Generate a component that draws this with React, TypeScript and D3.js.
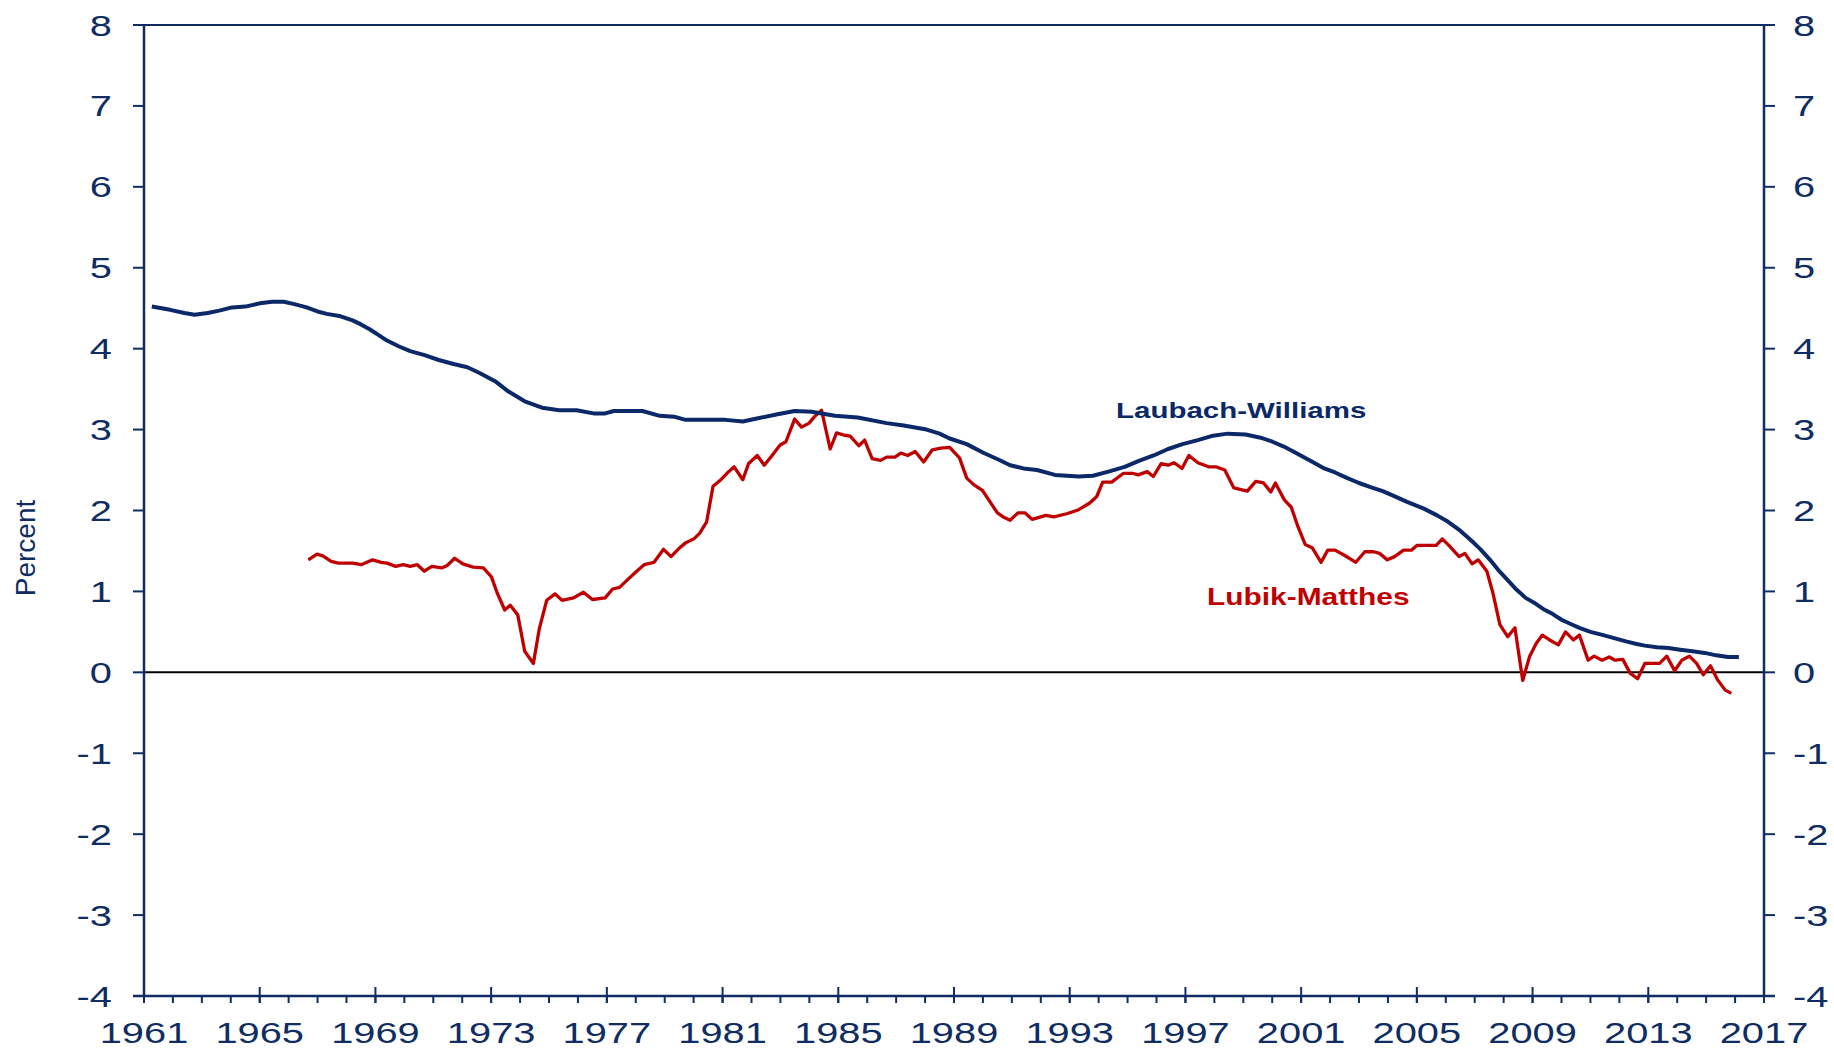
import React from "react";
import * as d3 from "d3";

// Laubach-Williams (navy), quarterly-ish readings
const lwYears = [
	1961.27, 1961.9, 1962.4, 1962.75, 1963.2, 1963.6, 1964.04, 1964.5, 1965.0, 1965.43,
	1965.83, 1966.2, 1966.62, 1967.0, 1967.32, 1967.8, 1968.21, 1968.5, 1968.8, 1969.1,
	1969.4, 1969.8, 1970.2, 1970.7, 1971.19, 1971.7, 1972.18, 1972.6, 1973.17, 1973.6,
	1974.16, 1974.76, 1975.35, 1975.95, 1976.54, 1976.94, 1977.24, 1978.23, 1978.83, 1979.32,
	1979.72, 1981.1, 1981.7, 1982.1, 1982.9, 1983.49, 1984.08, 1984.88, 1985.67, 1986.67,
	1987.26, 1988.05, 1988.5, 1988.85, 1989.44, 1990.03, 1990.53, 1990.94, 1991.4, 1991.87,
	1992.49, 1993.31, 1993.8, 1994.34, 1994.9, 1995.37, 1995.9, 1996.4, 1996.9, 1997.43,
	1997.9, 1998.46, 1999.08, 1999.6, 2000.01, 2000.4, 2000.73, 2001.35, 2001.8, 2002.17,
	2002.6, 2003.0, 2003.4, 2003.82, 2004.2, 2004.64, 2005.26, 2005.7, 2006.08, 2006.5,
	2006.91, 2007.2, 2007.53, 2007.85, 2008.14, 2008.45, 2008.76, 2009.1, 2009.38, 2009.7,
	2010.0, 2010.3, 2010.62, 2011.0, 2011.44, 2011.85, 2012.26, 2012.6, 2012.88, 2013.3,
	2013.7, 2014.1, 2014.53, 2014.95, 2015.35, 2015.75, 2016.13,
];
const lwValues = [
	4.52, 4.48, 4.44, 4.42, 4.44, 4.47, 4.51, 4.52, 4.56, 4.58,
	4.58, 4.55, 4.51, 4.46, 4.43, 4.4, 4.35, 4.3, 4.24, 4.17,
	4.1, 4.03, 3.97, 3.92, 3.86, 3.81, 3.77, 3.7, 3.59, 3.47,
	3.35, 3.27, 3.24, 3.24, 3.2, 3.2, 3.23, 3.23, 3.17, 3.16,
	3.12, 3.12, 3.1, 3.13, 3.19, 3.23, 3.22, 3.17, 3.15, 3.08,
	3.05, 3.0, 2.95, 2.89, 2.82, 2.71, 2.63, 2.56, 2.52, 2.5,
	2.44, 2.42, 2.43, 2.48, 2.54, 2.61, 2.68, 2.76, 2.82, 2.87,
	2.92, 2.95, 2.94, 2.9, 2.85, 2.79, 2.73, 2.61, 2.52, 2.47,
	2.4, 2.34, 2.29, 2.24, 2.18, 2.11, 2.02, 1.94, 1.86, 1.75,
	1.62, 1.52, 1.39, 1.25, 1.14, 1.02, 0.92, 0.85, 0.78, 0.72,
	0.65, 0.6, 0.55, 0.5, 0.46, 0.42, 0.38, 0.35, 0.33, 0.31,
	0.3, 0.28, 0.26, 0.24, 0.21, 0.19, 0.19,
];

// Lubik-Matthes (red)
const lmYears = [
	1966.68, 1966.98, 1967.18, 1967.47, 1967.71, 1968.21, 1968.51, 1968.9, 1969.2, 1969.4,
	1969.7, 1969.96, 1970.2, 1970.45, 1970.69, 1970.95, 1971.29, 1971.48, 1971.74, 1972.02,
	1972.38, 1972.73, 1973.01, 1973.21, 1973.47, 1973.66, 1973.92, 1974.16, 1974.46, 1974.66,
	1974.92, 1975.21, 1975.45, 1975.85, 1976.19, 1976.5, 1976.94, 1977.2, 1977.44, 1977.7,
	1978.03, 1978.29, 1978.63, 1978.96, 1979.22, 1979.52, 1979.72, 1980.01, 1980.21, 1980.45,
	1980.67, 1980.91, 1981.21, 1981.4, 1981.7, 1981.9, 1982.2, 1982.44, 1982.69, 1982.99,
	1983.19, 1983.49, 1983.73, 1983.99, 1984.18, 1984.42, 1984.72, 1984.94, 1985.21, 1985.41,
	1985.71, 1985.91, 1986.17, 1986.46, 1986.67, 1986.96, 1987.16, 1987.4, 1987.66, 1987.95,
	1988.25, 1988.55, 1988.85, 1989.19, 1989.44, 1989.68, 1989.98, 1990.24, 1990.5, 1990.7,
	1990.94, 1991.21, 1991.46, 1991.7, 1992.18, 1992.45, 1992.9, 1993.31, 1993.68, 1993.93,
	1994.14, 1994.45, 1994.86, 1995.17, 1995.37, 1995.68, 1995.89, 1996.16, 1996.4, 1996.61,
	1996.88, 1997.12, 1997.43, 1997.8, 1998.05, 1998.36, 1998.67, 1999.14, 1999.43, 1999.7,
	1999.95, 2000.11, 2000.42, 2000.66, 2000.89, 2001.14, 2001.38, 2001.69, 2001.92, 2002.17,
	2002.48, 2002.89, 2003.2, 2003.51, 2003.71, 2003.98, 2004.23, 2004.54, 2004.81, 2005.01,
	2005.46, 2005.67, 2005.88, 2006.13, 2006.46, 2006.66, 2006.91, 2007.12, 2007.42, 2007.63,
	2007.87, 2008.14, 2008.39, 2008.66, 2008.9, 2009.13, 2009.34, 2009.59, 2009.89, 2010.14,
	2010.41, 2010.62, 2010.92, 2011.13, 2011.4, 2011.65, 2011.85, 2012.12, 2012.37, 2012.63,
	2012.88, 2013.13, 2013.39, 2013.64, 2013.91, 2014.16, 2014.42, 2014.67, 2014.9, 2015.15,
	2015.39, 2015.66, 2015.87,
];
const lmValues = [
	1.39, 1.46, 1.44, 1.37, 1.35, 1.35, 1.33, 1.39, 1.36, 1.35,
	1.31, 1.33, 1.31, 1.33, 1.25, 1.31, 1.29, 1.32, 1.41, 1.34,
	1.3, 1.29, 1.18, 0.98, 0.77, 0.83, 0.71, 0.26, 0.11, 0.53,
	0.89, 0.97, 0.89, 0.92, 0.99, 0.9, 0.92, 1.03, 1.05, 1.14,
	1.25, 1.33, 1.36, 1.52, 1.43, 1.54, 1.6, 1.65, 1.72, 1.86,
	2.3, 2.37, 2.48, 2.54, 2.38, 2.58, 2.68, 2.56, 2.67, 2.81,
	2.85, 3.13, 3.03, 3.08, 3.16, 3.24, 2.76, 2.96, 2.93, 2.92,
	2.8, 2.87, 2.64, 2.62, 2.66, 2.66, 2.71, 2.68, 2.73, 2.6,
	2.75, 2.77, 2.78, 2.65, 2.4, 2.32, 2.25, 2.11, 1.97, 1.92,
	1.88, 1.97, 1.97, 1.89, 1.94, 1.92, 1.96, 2.01, 2.09, 2.17,
	2.35, 2.35, 2.46, 2.46, 2.44, 2.48, 2.42, 2.58, 2.56, 2.59,
	2.52, 2.68, 2.59, 2.54, 2.54, 2.5, 2.28, 2.24, 2.36, 2.34,
	2.23, 2.34, 2.13, 2.04, 1.8, 1.58, 1.54, 1.36, 1.51, 1.51,
	1.45, 1.36, 1.49, 1.49, 1.47, 1.39, 1.43, 1.51, 1.51, 1.57,
	1.57, 1.57, 1.65, 1.56, 1.43, 1.47, 1.34, 1.39, 1.25, 0.98,
	0.59, 0.44, 0.55, -0.1, 0.2, 0.36, 0.46, 0.4, 0.34, 0.5,
	0.4, 0.46, 0.15, 0.2, 0.15, 0.19, 0.15, 0.16, -0.01, -0.08,
	0.11, 0.11, 0.11, 0.2, 0.02, 0.15, 0.2, 0.11, -0.03, 0.08,
	-0.09, -0.22, -0.26,
];

const yTicks = [-4, -3, -2, -1, 0, 1, 2, 3, 4, 5, 6, 7, 8];
const xMajorTicks = d3.range(1961, 2018, 4);
const xMinorTicks = d3.range(1961, 2018, 1);

export default function App() {
	const width = 1834;
	const height = 1048;
	const left = 144;
	const right = 1764;
	const top = 25;
	const bottom = 996;
	const navy = "#0f2d62";
	const lineNavy = "#0b2868";
	const red = "#c00000";
	const font = "'Liberation Sans', Arial, sans-serif";
	const stretch = 1.35;

	const x = d3.scaleLinear().domain([1961, 2017]).range([left, right]);
	const y = d3.scaleLinear().domain([-4, 8]).range([bottom, top]);

	const line = d3
		.line<[number, number]>()
		.x((d) => x(d[0]))
		.y((d) => y(d[1]));

	const lwPath = line(lwYears.map((yr, i) => [yr, lwValues[i]]));
	const lmPath = line(lmYears.map((yr, i) => [yr, lmValues[i]]));

	return (
		<svg
			width={width}
			height={height}
			style={{ position: "absolute", left: 0, top: 0, background: "#fff" }}
			fontFamily={font}
		>
			{/* zero line */}
			<line x1={left} x2={right} y1={y(0)} y2={y(0)} stroke="#000" strokeWidth={2} />

			{/* frame: top line, bottom axis, side axes */}
			<line x1={left - 11} x2={right + 11} y1={top} y2={top} stroke={navy} strokeWidth={2} />
			<line x1={left - 11} x2={right + 11} y1={bottom} y2={bottom} stroke={navy} strokeWidth={2.5} />
			<line x1={left} x2={left} y1={top} y2={bottom} stroke={navy} strokeWidth={2.5} />
			<line x1={right} x2={right} y1={top} y2={bottom} stroke={navy} strokeWidth={2.5} />

			{/* y ticks + labels, both sides */}
			{yTicks.map((t) => (
				<g key={t}>
					<line x1={left - 11} x2={left} y1={y(t)} y2={y(t)} stroke={navy} strokeWidth={2} />
					<line x1={right} x2={right + 11} y1={y(t)} y2={y(t)} stroke={navy} strokeWidth={2} />
					<text
						transform={`translate(112, ${y(t) + 10.5}) scale(${stretch}, 1)`}
						textAnchor="end"
						fontSize={29.5}
						fill={navy}
					>
						{t}
					</text>
					<text
						transform={`translate(1793, ${y(t) + 10.5}) scale(${stretch}, 1)`}
						textAnchor="start"
						fontSize={29.5}
						fill={navy}
					>
						{t}
					</text>
				</g>
			))}

			{/* x ticks */}
			{xMinorTicks.map((t) => (
				<line key={"m" + t} x1={x(t)} x2={x(t)} y1={bottom} y2={bottom + 7} stroke={navy} strokeWidth={2} />
			))}
			{xMajorTicks.map((t) => (
				<g key={t}>
					<line x1={x(t)} x2={x(t)} y1={bottom - 9} y2={bottom + 7} stroke={navy} strokeWidth={2} />
					<text
						transform={`translate(${x(t)}, 1043) scale(${stretch}, 1)`}
						textAnchor="middle"
						fontSize={29.5}
						fill={navy}
					>
						{t}
					</text>
				</g>
			))}

			{/* axis title */}
			<text
				transform="translate(35, 548) rotate(-90)"
				textAnchor="middle"
				fontSize={28}
				fill={navy}
			>
				Percent
			</text>

			{/* series */}
			<path d={lmPath || undefined} fill="none" stroke={red} strokeWidth={3.3} strokeLinejoin="round" />
			<path d={lwPath || undefined} fill="none" stroke={lineNavy} strokeWidth={4} strokeLinejoin="round" />

			{/* series labels */}
			<text
				transform={`translate(1116, 418) scale(1.31, 1)`}
				fontSize={22.5}
				fontWeight="bold"
				fill={lineNavy}
			>
				Laubach-Williams
			</text>
			<text
				transform={`translate(1207, 605) scale(1.3, 1)`}
				fontSize={23}
				fontWeight="bold"
				fill={red}
			>
				Lubik-Matthes
			</text>
		</svg>
	);
}
